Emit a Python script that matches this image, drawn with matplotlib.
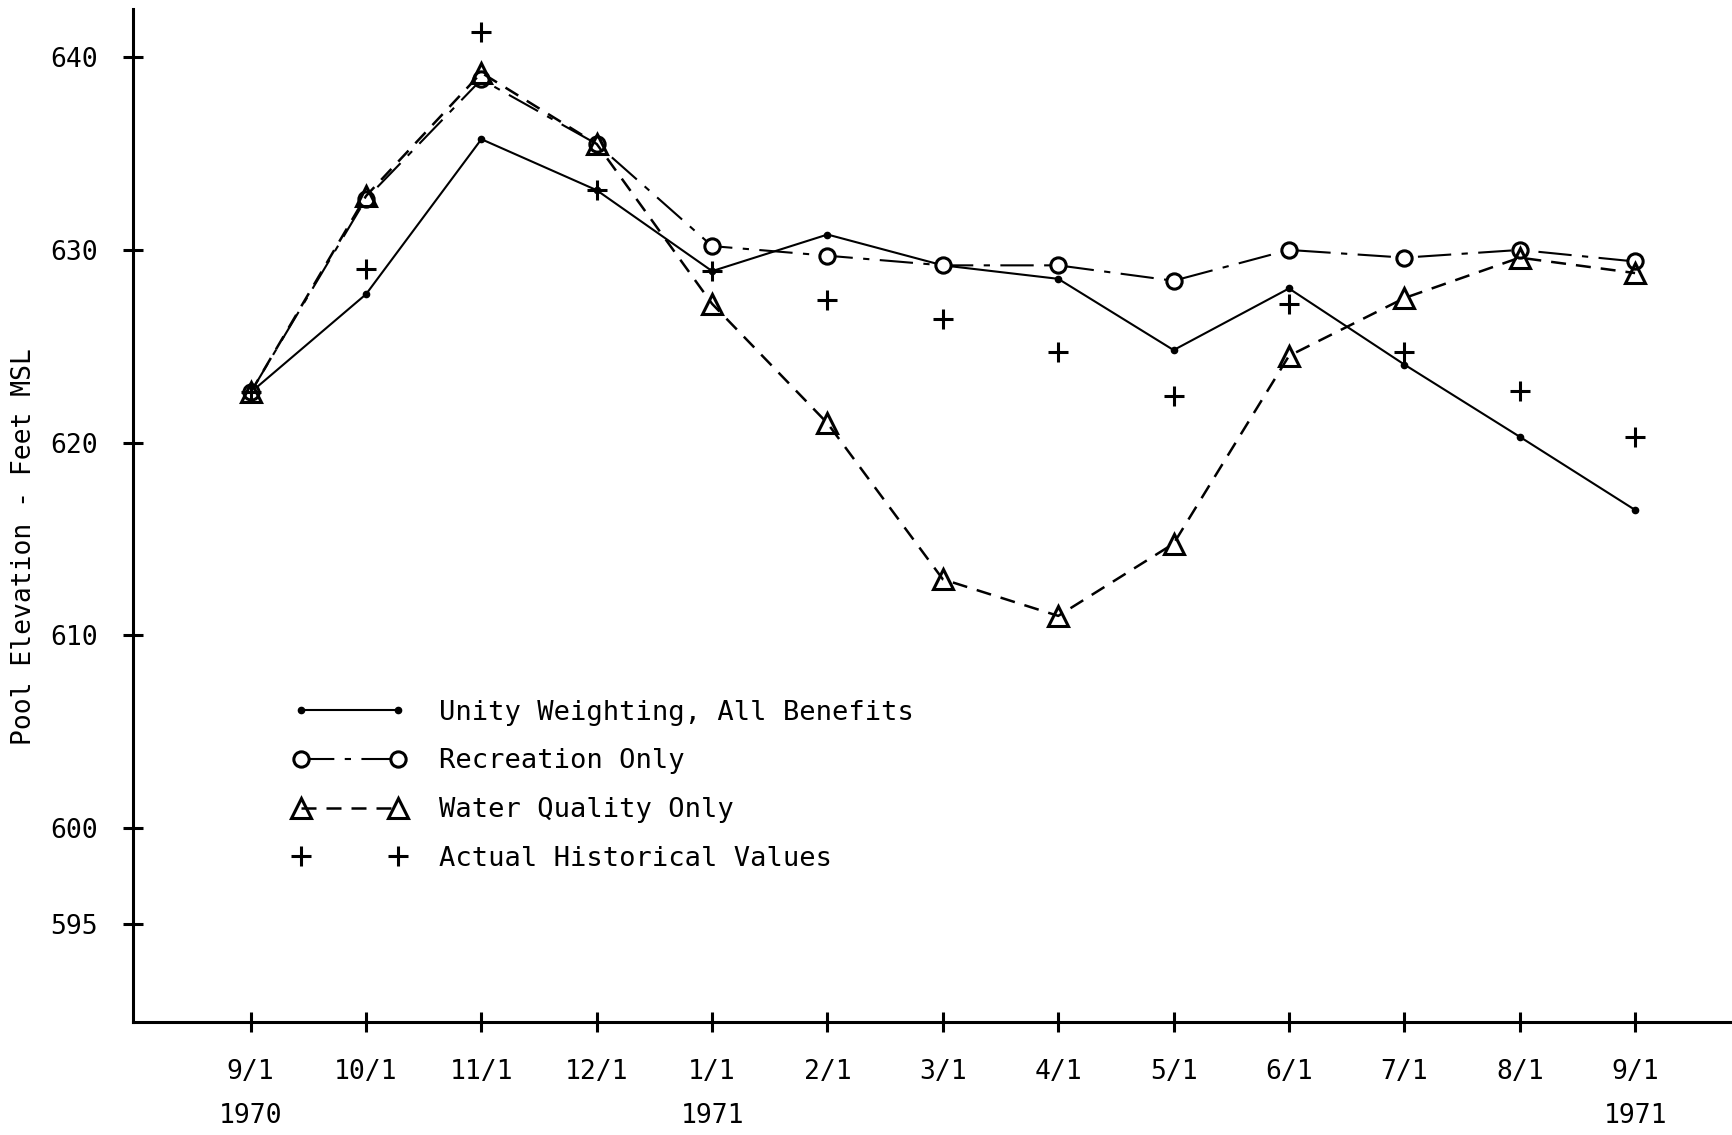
import matplotlib
matplotlib.use("Agg")
import matplotlib.pyplot as plt

months = ["9/1\n1970", "10/1", "11/1", "12/1", "1/1\n1971", "2/1", "3/1",
          "4/1", "5/1", "6/1", "7/1", "8/1", "9/1\n1971"]
unity = [622.6, 627.7, 635.75, 633.1, 628.9, 630.8, 629.2, 628.5, 624.8,
         628.0, 624.05, 620.3, 616.5]
recreation = [622.6, 632.65, 638.85, 635.5, 630.2, 629.7, 629.2, 629.2,
              628.4, 630.0, 629.6, 630.0, 629.4]
water_quality = [622.6, 632.8, 639.2, 635.5, 627.2, 621.0, 612.9, 611.0,
                 614.75, 624.5, 627.5, 629.6, 628.8]
actual = [622.6, 629.0, 641.3, 633.1, 628.9, 627.4, 626.4, 624.7, 622.4,
          627.2, 624.7, 622.7, 620.3]
y_ticks = [595, 600, 610, 620, 630, 640]
labels = ["Unity Weighting, All Benefits", "Recreation Only",
          "Water Quality Only", "Actual Historical Values"]

FONT = "DejaVu Sans Mono"

fig = plt.figure(figsize=(17.32, 11.35), dpi=100)
ax = fig.add_axes([132.5 / 1732, 113.3 / 1135, 1 - 132.5 / 1732, (1021.7 - 8.8) / 1135])

x = list(range(len(months)))
lw = 1.5

ax.plot(x, unity, color="black", lw=lw, ls="-", marker="o", ms=4.5,
        mfc="black", mec="black", label=labels[0], zorder=3)
ax.plot(x, recreation, color="black", lw=lw, ls=(0, (16, 5, 3, 5)),
        marker="o", ms=11, mfc="white", mec="black", mew=2.2,
        label=labels[1], zorder=4)
ax.plot(x, water_quality, color="black", lw=lw + 0.3, ls=(0, (6, 4)),
        marker="^", ms=15, mfc="none", mec="black", mew=2.2,
        label=labels[2], zorder=5)
ax.plot(x, actual, color="black", ls="none", marker="+", ms=14, mew=2.2,
        label=labels[3], zorder=6)

ax.set_xlim(-1.024, 12.84)
ax.set_ylim(589.93, 642.52)

for s in ["top", "right"]:
    ax.spines[s].set_visible(False)
for s in ["left", "bottom"]:
    ax.spines[s].set_linewidth(2.2)

ax.set_xticks(x)
ax.set_xticklabels(months, fontfamily=FONT, fontsize=19, linespacing=1.9)
ax.set_yticks(y_ticks)
ax.set_yticklabels([str(v) for v in y_ticks], fontfamily=FONT, fontsize=19)
ax.tick_params(axis="x", direction="inout", length=14, width=2.2, pad=20)
ax.tick_params(axis="y", direction="inout", length=14, width=2.2, pad=18)
for lab in ax.get_xticklabels():
    lab.set_verticalalignment("top")

fig.text(22 * 1.1046 / 1732, 1 - (495 * 1.1046) / 1135,
         "Pool Elevation - Feet MSL", rotation=90, ha="center", va="center",
         fontfamily=FONT, fontsize=19)

leg = ax.legend(loc="upper left", bbox_to_anchor=(0.085, 0.342), frameon=False,
                numpoints=2, handlelength=4.2, handletextpad=1.2,
                labelspacing=0.84, prop={"family": FONT, "size": 19.5})

fig.savefig("out.png", dpi=100)
